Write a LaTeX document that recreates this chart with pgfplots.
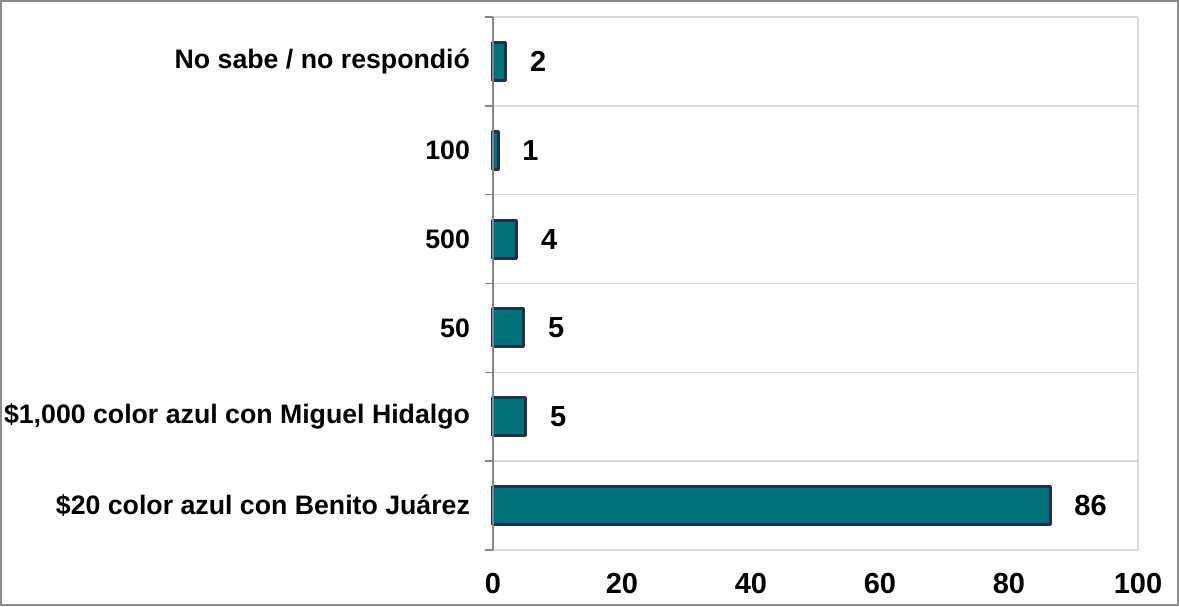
\documentclass[border=0pt]{standalone}
\usepackage{pgfplots}
\pgfplotsset{compat=1.18}
\usepackage{pgfplotstable}
\usepackage{fontspec}
\setmainfont{Liberation Sans}
\definecolor{barfill}{HTML}{00737A}
\definecolor{barline}{HTML}{1F3050}
\definecolor{gridc}{HTML}{D9D9D9}
\definecolor{axisc}{HTML}{868686}
\definecolor{framec}{HTML}{8C8C8C}

\pgfplotstableread{
y x lab
0 86.4 86
1 5.1 5
2 4.8 5
3 3.7 4
4 0.8 1
5 2.0 2
}\datatab

\begin{document}
\begin{tikzpicture}[x=1pt,y=1pt]
\useasboundingbox (0,0) rectangle (589.5,303);
\draw[framec, line width=1pt] (0.5,0.5) rectangle (589,302.5);
\begin{axis}[
  at={(246.5pt,28pt)}, anchor=south west,
  scale only axis, width=322.5pt, height=266.5pt,
  xbar, bar width=19pt,
  xmin=0, xmax=100, ymin=-0.5, ymax=5.5,
  xtick={0,20,40,60,80,100},
  ytick={0,1,2,3,4,5},
  yticklabels={\$20 color azul con Benito Juárez,\$1{,}000 color azul con Miguel Hidalgo,50,500,100,No sabe / no respondió},
  minor ytick={-0.5,0.5,1.5,2.5,3.5,4.5,5.5},
  yminorgrids, minor grid style={gridc, line width=0.75pt},
  major tick length=0pt,
  minor tick length=4pt,
  tick align=outside,
  ytick pos=left, xtick pos=bottom,
  minor tick style={axisc, line width=0.75pt},
  major tick style={draw=none},
  axis line style={draw=none},
  /pgf/number format/assume math mode=true,
  xticklabel style={font=\bfseries\fontsize{14.5}{16}\selectfont, yshift=-8pt},
  yticklabel style={font=\bfseries\fontsize{13.35}{16}\selectfont, anchor=east, xshift=-8pt},
  nodes near coords,
  point meta=explicit symbolic,
  nodes near coords style={font=\bfseries\fontsize{14.5}{16}\selectfont, anchor=west, xshift=8pt, text=black},
  clip=false,
]
\addplot[fill=barfill, draw=barline, line width=1.5pt, line join=round] table[x=x, y=y, meta=lab] {\datatab};
\draw[axisc, line width=0.75pt] (axis cs:0,-0.5) -- (axis cs:0,5.5);
\draw[gridc, line width=0.75pt] (axis cs:100,-0.5) -- (axis cs:100,5.5);
\end{axis}
\end{tikzpicture}
\end{document}
